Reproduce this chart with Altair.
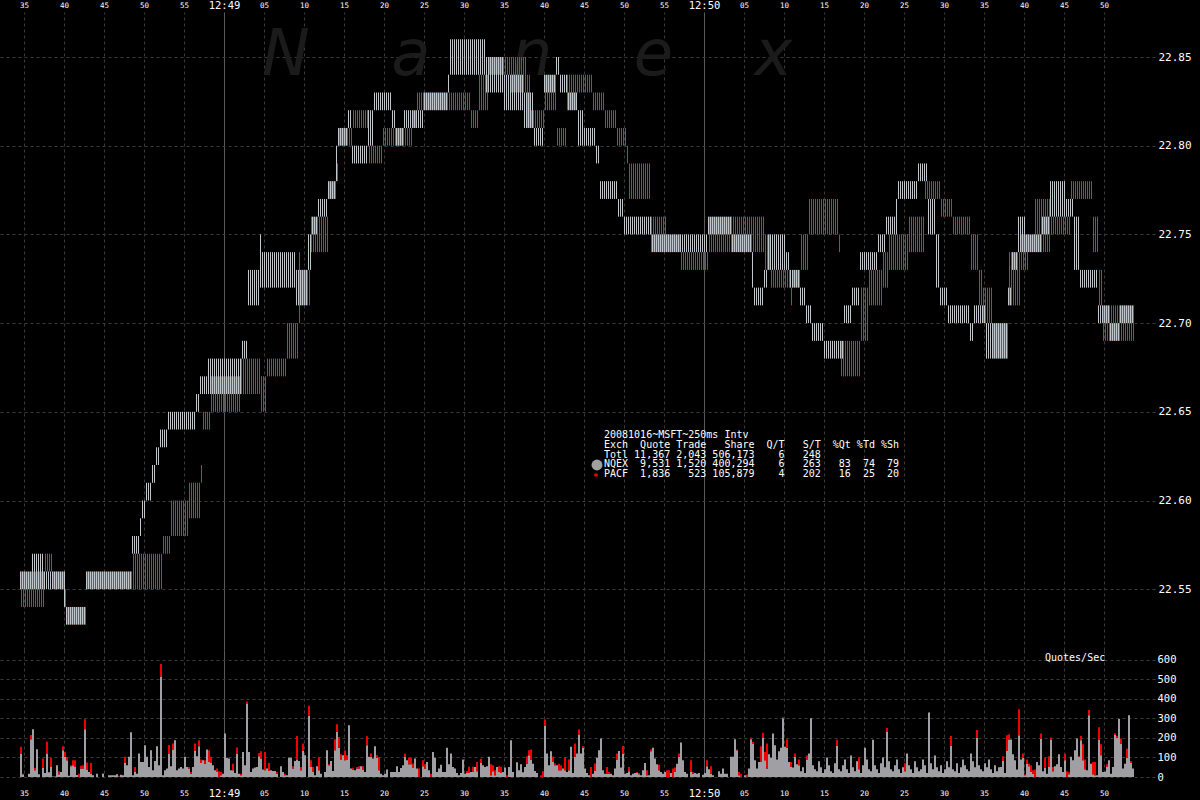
import math
import altair as alt
import pandas as pd

# ---------------- data ----------------
# time = seconds after 12:48:00 ; prices as cents above 22.00
# (start, end, bid, ask) quote segments
NQEX_SEGMENTS = [
    (34.5, 36.0, 55, 56), (36.0, 37.5, 55, 57), (37.5, 39.9, 55, 56), (39.9, 40.1, 54, 56),
    (40.1, 42.6, 53, 54), (42.6, 48.3, 55, 56), (48.3, 49.3, 57, 58), (49.3, 49.7, 58, 59),
    (49.7, 50.2, 59, 60), (50.2, 50.8, 60, 61), (50.8, 51.5, 61, 62), (51.5, 52.0, 62, 63),
    (52.0, 53.0, 63, 64), (53.0, 56.5, 64, 65), (56.5, 56.8, 65, 66), (56.8, 57.8, 66, 67),
    (57.8, 62.2, 66, 68), (62.2, 62.8, 68, 69), (62.8, 63.0, 69, 71), (63.0, 64.4, 71, 73),
    (64.4, 64.6, 72, 75), (64.6, 68.9, 72, 74), (68.9, 70.5, 71, 73), (70.5, 70.9, 73, 75),
    (70.9, 71.7, 75, 76), (71.7, 72.8, 76, 77), (72.8, 73.8, 77, 78), (73.8, 74.2, 78, 80),
    (74.2, 75.3, 80, 81), (75.3, 75.8, 81, 82), (75.8, 77.8, 79, 80), (77.8, 78.7, 80, 82),
    (78.7, 81.0, 82, 83), (81.0, 81.4, 81, 82), (81.4, 82.4, 80, 81), (82.4, 85.0, 81, 82),
    (85.0, 87.8, 82, 83), (87.8, 88.2, 83, 84), (88.2, 92.6, 84, 86), (92.6, 95.0, 83, 85),
    (95.0, 97.5, 82, 84), (97.5, 98.7, 81, 83), (98.7, 100.0, 80, 81), (100.0, 101.5, 83, 84),
    (101.5, 101.9, 84, 85), (101.9, 102.8, 83, 84), (102.8, 104.2, 82, 83), (104.2, 105.0, 80, 82),
    (105.0, 106.5, 80, 81), (106.5, 106.9, 79, 80), (106.9, 109.2, 77, 78), (109.2, 110.0, 76, 77),
    (110.0, 113.4, 75, 76), (113.4, 120.3, 74, 75), (120.3, 123.5, 75, 76), (123.5, 126.0, 74, 75),
    (126.0, 126.1, 72, 74), (126.1, 127.3, 71, 72), (127.3, 128.0, 72, 73), (128.0, 130.1, 73, 75),
    (130.1, 130.6, 73, 74), (130.6, 132.0, 72, 73), (132.0, 132.7, 71, 72), (132.7, 133.4, 70, 71),
    (133.4, 135.0, 69, 70), (135.0, 137.4, 68, 69), (137.4, 138.3, 70, 71), (138.3, 139.4, 71, 72),
    (139.4, 141.6, 73, 74), (141.6, 142.6, 74, 75), (142.6, 143.8, 75, 76), (143.8, 144.2, 75, 77),
    (144.2, 146.6, 77, 78), (146.6, 148.0, 78, 79), (148.0, 148.9, 75, 77), (148.9, 149.4, 72, 75),
    (149.4, 150.4, 71, 72), (150.4, 153.2, 70, 71), (153.2, 153.6, 69, 70), (153.6, 155.1, 70, 71),
    (155.1, 157.9, 68, 70), (157.9, 158.3, 71, 72), (158.3, 159.1, 73, 74), (159.1, 160.2, 74, 76),
    (160.2, 162.2, 74, 75), (162.2, 163.1, 75, 76), (163.1, 165.1, 76, 78), (165.1, 166.1, 76, 77),
    (166.1, 167.0, 73, 76), (167.0, 169.2, 72, 73), (169.2, 170.6, 70, 71), (170.6, 172.0, 69, 70),
    (172.0, 173.6, 70, 71),
]
PACF_SEGMENTS = [
    (34.5, 37.5, 54, 56), (37.5, 38.5, 56, 57), (38.5, 39.9, 55, 56), (39.9, 40.1, 54, 55),
    (40.1, 42.6, 53, 54), (42.6, 48.4, 55, 56), (48.4, 52.2, 55, 57), (52.2, 53.1, 57, 58),
    (53.1, 55.3, 58, 60), (55.3, 56.9, 59, 61), (56.9, 57.1, 61, 62), (57.1, 58.2, 64, 65),
    (58.2, 61.8, 65, 67), (61.8, 64.5, 66, 68), (64.5, 65.1, 65, 67), (65.1, 67.6, 67, 68),
    (67.6, 69.1, 68, 70), (69.1, 69.3, 70, 74), (69.3, 70.6, 71, 73), (70.6, 72.9, 74, 76),
    (72.9, 73.8, 77, 78), (73.8, 74.2, 78, 79), (74.2, 75.8, 80, 81), (75.8, 77.9, 81, 82),
    (77.9, 79.6, 79, 80), (79.6, 83.4, 80, 81), (83.4, 83.9, 81, 82), (83.9, 90.6, 82, 83),
    (90.6, 91.7, 81, 82), (91.7, 93.0, 82, 84), (93.0, 95.7, 84, 85), (95.7, 97.7, 83, 85),
    (97.7, 98.2, 81, 84), (98.2, 100.0, 81, 82), (100.0, 101.3, 82, 84), (101.3, 102.6, 80, 81),
    (102.6, 104.0, 82, 84), (104.0, 105.9, 83, 84), (105.9, 107.5, 82, 83), (107.5, 109.0, 81, 82),
    (109.0, 110.1, 80, 81), (110.1, 110.5, 79, 80), (110.5, 113.2, 77, 79), (113.2, 115.2, 74, 76),
    (115.2, 117.0, 74, 75), (117.0, 120.3, 73, 74), (120.3, 123.5, 74, 76), (123.5, 127.3, 74, 76),
    (127.3, 128.2, 73, 75), (128.2, 130.6, 72, 73), (130.6, 131.0, 71, 72), (131.0, 132.0, 72, 73),
    (132.0, 133.0, 73, 75), (133.0, 136.7, 75, 77), (136.7, 136.9, 74, 75), (136.9, 139.5, 67, 69),
    (139.5, 140.5, 69, 72), (140.5, 142.1, 71, 73), (142.1, 143.0, 72, 74), (143.0, 145.4, 73, 75),
    (145.4, 147.3, 74, 76), (147.3, 149.4, 77, 78), (149.4, 150.8, 76, 77), (150.8, 153.2, 75, 76),
    (153.2, 154.1, 73, 75), (154.1, 154.6, 71, 73), (154.6, 156.0, 70, 72), (156.0, 157.9, 68, 70),
    (157.9, 159.3, 71, 74), (159.3, 160.5, 73, 75), (160.5, 161.2, 74, 75), (161.2, 163.1, 74, 77),
    (163.1, 165.6, 75, 76), (165.6, 168.5, 77, 78), (168.5, 169.2, 74, 76), (169.2, 169.6, 71, 73),
    (169.6, 173.6, 69, 71),
]

# quotes/sec per 250 ms interval, first interval starts at 12:48:34.5
VOL_START = 34.5
NQEX_QPS = [
    120, 14, 0, 0, 17, 193, 244, 34, 142, 14, 0, 46, 21, 120, 24, 51, 3, 3, 60, 14,
    26, 137, 103, 85, 7, 55, 60, 51, 10, 0, 43, 43, 244, 38, 26, 17, 9, 0, 17, 0,
    0, 17, 0, 0, 9, 9, 9, 9, 14, 3, 12, 9, 72, 60, 103, 229, 9, 26, 17, 120,
    77, 77, 162, 103, 51, 137, 34, 82, 157, 60, 513, 9, 34, 43, 120, 55, 140, 188, 34, 43,
    51, 43, 103, 51, 43, 17, 51, 133, 106, 157, 72, 85, 68, 140, 77, 72, 60, 34, 26, 0,
    9, 17, 222, 99, 94, 34, 34, 21, 120, 17, 9, 128, 60, 376, 128, 26, 43, 48, 51, 106,
    94, 38, 34, 43, 31, 34, 31, 31, 17, 0, 55, 26, 9, 9, 99, 99, 43, 82, 89, 82,
    34, 133, 111, 0, 313, 51, 26, 9, 55, 34, 17, 0, 26, 137, 60, 82, 31, 137, 231, 150,
    89, 111, 85, 89, 265, 43, 38, 34, 43, 43, 55, 38, 26, 162, 103, 103, 94, 157, 99, 34,
    17, 9, 17, 38, 0, 26, 26, 26, 55, 26,
    46, 60, 103, 85, 65, 65, 48, 94, 43, 0, 0, 55, 43, 77, 34, 0, 128, 99, 26, 43,
    63, 26, 26, 149, 65, 120, 51, 43, 21, 9, 21, 89, 17, 21, 21, 26, 26, 51, 29, 0,
    72, 60, 51, 55, 103, 9, 29, 9, 51, 26, 21, 26, 48, 0, 51, 188, 26, 0, 75, 34,
    65, 24, 51, 68, 111, 89, 68, 31, 21, 0, 0, 0, 260, 120, 60, 132, 77, 60, 60, 34,
    34, 43, 34, 26, 34, 154, 21, 103, 120, 217, 120, 149, 43, 21, 9, 0, 17, 31, 99, 137,
    197, 34, 17, 17, 17, 17, 9, 43, 89, 133, 48, 120, 17, 21, 29, 9, 17, 21, 21, 14,
    9, 34, 72, 9, 9, 132, 150, 94, 65, 34, 26, 17, 26, 0, 0, 21, 0, 26, 68, 103,
    176, 85, 26, 17, 0, 26, 17, 21, 17, 21, 0, 12, 21, 55, 39, 17, 9, 0, 0, 29,
    17, 43, 17, 17, 0, 103, 103, 193, 137, 9, 3, 0, 9, 3, 43, 193, 171, 85, 43, 77,
    77, 202, 85, 43, 116, 99, 222, 162, 89, 132, 150, 300, 154, 150, 77, 51, 48, 103, 65, 60,
    30, 50, 20, 90, 120, 300, 60, 40, 30, 80, 50, 20, 40, 100, 60, 30, 20, 70, 160, 40,
    30, 60, 90, 40, 20, 110, 50, 30, 80, 40, 20, 60, 150, 90, 40, 30, 190, 60, 40, 20,
    70, 100, 50, 230, 80, 40, 30, 60, 90, 40, 20, 50, 30, 120, 60, 40, 20, 80, 50, 30,
    40, 90, 60, 20, 330, 70, 40, 110, 50, 30, 60, 20, 40, 80, 50, 160, 40, 30, 70, 20,
    50, 90, 60, 40, 30, 120, 80, 50, 200, 60, 40, 30, 70, 50, 90, 40, 20, 60, 30, 50,
    51, 82, 21, 133, 192, 192, 116, 85, 38, 213, 89, 99, 9, 68, 55, 26, 17, 0, 77, 60,
    195, 29, 46, 17, 51, 192, 29, 55, 65, 116, 51, 26, 85, 0, 14, 103, 85, 137, 197, 103,
    188, 85, 39, 34, 316, 68, 14, 9, 9, 192, 111, 26, 26, 51, 85, 17, 51, 214, 200, 296,
    171, 43, 68, 99, 316, 72, 43,
]
PACF_QPS = [
    34, 3, 0, 0, 0, 21, 0, 12, 0, 0, 0, 49, 0, 60, 0, 48, 0, 0, 0, 15,
    0, 20, 26, 17, 0, 5, 25, 34, 0, 17, 15, 17, 51, 36, 0, 55, 0, 0, 0, 0,
    0, 3, 0, 0, 0, 0, 0, 0, 0, 3, 0, 0, 31, 0, 0, 0, 0, 25, 0, 0,
    0, 0, 0, 0, 0, 0, 0, 0, 0, 0, 65, 0, 0, 0, 43, 0, 31, 0, 0, 0,
    0, 0, 0, 0, 8, 9, 0, 38, 0, 31, 17, 0, 17, 0, 60, 31, 0, 0, 17, 29,
    17, 0, 0, 0, 0, 0, 34, 0, 31, 0, 8, 0, 0, 9, 0, 0, 0, 0, 0, 17,
    38, 0, 94, 0, 41, 0, 0, 0, 9, 0, 0, 0, 8, 0, 0, 0, 12, 0, 120, 0,
    17, 38, 0, 0, 51, 34, 25, 0, 0, 68, 0, 0, 0, 0, 5, 0, 0, 56, 39, 55,
    27, 0, 51, 22, 0, 0, 9, 0, 8, 12, 0, 17, 0, 46, 0, 17, 0, 0, 12, 68,
    0, 0, 0, 0, 0, 0, 0, 0, 0, 0,
    0, 0, 17, 0, 34, 34, 21, 0, 0, 43, 0, 31, 22, 0, 0, 17, 0, 0, 0, 0,
    0, 0, 0, 0, 0, 0, 0, 0, 0, 0, 0, 3, 0, 10, 31, 0, 26, 0, 48, 0,
    21, 0, 0, 0, 0, 56, 31, 26, 0, 29, 31, 0, 0, 9, 0, 0, 0, 0, 0, 0,
    0, 0, 0, 38, 26, 51, 0, 0, 0, 0, 9, 29, 34, 0, 0, 0, 26, 9, 0, 34,
    26, 0, 68, 0, 55, 0, 0, 68, 0, 26, 0, 9, 0, 0, 0, 51, 0, 38, 0, 0,
    0, 0, 0, 34, 9, 0, 0, 0, 31, 0, 0, 38, 0, 0, 22, 0, 0, 0, 5, 7,
    0, 0, 0, 26, 0, 9, 0, 0, 0, 29, 0, 0, 0, 34, 34, 0, 43, 22, 0, 17,
    0, 0, 0, 0, 0, 60, 9, 0, 0, 0, 0, 0, 0, 31, 0, 38, 0, 0, 0, 0,
    0, 0, 0, 0, 0, 0, 0, 0, 3, 17, 14, 0, 0, 10, 0, 9, 9, 0, 0, 0,
    80, 24, 43, 128, 0, 0, 0, 0, 0, 0, 0, 5, 0, 43, 0, 26, 0, 17, 0, 30,
    0, 0, 0, 20, 0, 0, 0, 0, 0, 0, 0, 0, 0, 0, 0, 0, 0, 0, 30, 0,
    0, 0, 0, 0, 0, 0, 0, 0, 0, 60, 0, 0, 0, 0, 0, 0, 0, 0, 0, 0,
    0, 0, 0, 20, 0, 0, 0, 0, 0, 0, 0, 0, 40, 0, 0, 0, 0, 0, 0, 0,
    0, 0, 0, 0, 0, 0, 0, 0, 0, 0, 0, 0, 0, 0, 0, 50, 0, 0, 0, 0,
    0, 0, 0, 0, 0, 0, 0, 0, 40, 0, 0, 0, 0, 0, 0, 0, 0, 0, 0, 0,
    0, 24, 0, 80, 27, 0, 0, 0, 0, 133, 0, 21, 5, 22, 14, 34, 17, 38, 0, 0,
    27, 0, 53, 0, 55, 10, 22, 0, 0, 0, 0, 0, 34, 29, 10, 0, 0, 0, 0, 5,
    21, 82, 51, 0, 26, 0, 63, 68, 0, 62, 56, 0, 5, 14, 0, 0, 0, 9, 9, 0,
    26, 0, 0, 46, 0, 10, 0,
]

PRICE_TICKS = [22.55, 22.60, 22.65, 22.70, 22.75, 22.80, 22.85]
VOL_TICKS = [0, 100, 200, 300, 400, 500, 600]
TIME_TICKS = list(range(35, 171, 5))

LEGEND_LINES = [
    "20081016~MSFT~250ms Intv",
    "Exch  Quote Trade   Share  Q/T   S/T  %Qt %Td %Sh",
    "Totl 11,367 2,043 506,173    6   248",
    "NQEX  9,531 1,520 400,294    6   263   83  74  79",
    "PACF  1,836   523 105,879    4   202   16  25  20",
]
WATERMARK = ["N", "a", "n", "e", "x"]

# ---------------- tables ----------------
rows = []
for name, segs, off in (("NQEX", NQEX_SEGMENTS, 0.0625), ("PACF", PACF_SEGMENTS, 0.1875)):
    for a, b, lo, hi in segs:
        for k in range(math.ceil(a * 4 - 1e-9), math.ceil(b * 4 - 1e-9)):
            rows.append({"t": k / 4 + off, "lo": 22 + lo / 100, "hi": 22 + hi / 100, "exch": name})
quotes = pd.DataFrame(rows)

vrows = []
for i, (g, r) in enumerate(zip(NQEX_QPS, PACF_QPS)):
    t = VOL_START + i * 0.25
    vrows.append({"t": t, "t2": t + 0.25, "v0": 0, "v1": g, "exch": "NQEX"})
    if r > 0:
        vrows.append({"t": t, "t2": t + 0.25, "v0": g, "v1": g + r, "exch": "PACF"})
vol = pd.DataFrame(vrows)

# ---------------- styling ----------------
W = 1155
X_DOMAIN = [32, 32 + W / 8]
MONO = "DejaVu Sans Mono"
GRID = "#3a3a3a"
MINUTE = "#5a5a5a"
is_min = "datum.value % 60 === 0"
label_expr = ("datum.value % 60 === 0 ? '12:' + (48 + datum.value / 60) : "
              "(datum.value % 60 < 10 ? '0' : '') + (datum.value % 60)")


def time_axis(orient, pad, extent):
    return alt.Axis(
        orient=orient, values=TIME_TICKS, labelExpr=label_expr, title=None,
        ticks=False, tickSize=0, domain=False, grid=True,
        gridColor={"condition": {"test": is_min, "value": MINUTE}, "value": GRID},
        gridDash={"condition": {"test": is_min, "value": []}, "value": [3, 3]},
        labelColor="#ffffff", labelFont=MONO,
        labelFontSize={"condition": {"test": is_min, "value": 10.5}, "value": 7.5},
        labelBaseline="middle", labelPadding=pad, labelFlush=False, labelOverlap=False,
        minExtent=extent, maxExtent=extent,
    )


xs = alt.Scale(domain=X_DOMAIN, nice=False, zero=False)
ys = alt.Scale(domain=[22.51573, 22.87537], nice=False, zero=False)
color = alt.Scale(domain=["NQEX", "PACF"], range=["#c0c6c9", "#e8262a"])
vcolor = alt.Scale(domain=["NQEX", "PACF"], range=["#a09fa3", "#f00000"])

price_axis = alt.Axis(
    orient="right", values=PRICE_TICKS, format=".2f", title=None, ticks=False, domain=False,
    grid=True, gridColor=GRID, gridDash=[3, 3], labelColor="#ffffff", labelFont=MONO,
    labelFontSize=11, labelPadding=3, labelBaseline="middle", minExtent=45, maxExtent=45,
)
vol_axis = alt.Axis(
    orient="right", values=VOL_TICKS, title=None, ticks=False, domain=False,
    grid=True, gridColor=GRID, gridDash=[3, 3], labelColor="#ffffff", labelFont=MONO,
    labelFontSize=10.5, labelPadding=2, labelBaseline="middle", minExtent=45, maxExtent=45,
)

base_q = alt.Chart(quotes)
rules = base_q.mark_rule(strokeWidth=1).encode(
    x=alt.X("t:Q", scale=xs, axis=time_axis("top", 7, 12)),
    y=alt.Y("lo:Q", scale=ys, axis=price_axis),
    y2="hi:Q",
    color=alt.Color("exch:N", scale=color, legend=None),
)

wm = alt.Chart(pd.DataFrame({"w": ["\u00a0\u00a0\u00a0\u00a0".join(WATERMARK)]})).mark_text(
    font="DejaVu Sans", fontStyle="italic", fontSize=64, color="#1b1b1b",
    align="left", baseline="alphabetic",
).encode(text="w:N", x=alt.value(262), y=alt.value(63))

legend_text = alt.Chart(pd.DataFrame({"s": ["\n".join(LEGEND_LINES).replace(" ", "\u00a0")]})).mark_text(
    font=MONO, fontSize=10, color="#ffffff", align="left", baseline="top",
    lineBreak="\n", lineHeight=9.75,
).encode(text="s:N", x=alt.value(604), y=alt.value(418))

dot_src = pd.DataFrame({"k": [1]})
dot_nq = alt.Chart(dot_src).mark_point(filled=True, opacity=1, strokeWidth=0, size=120, color="#a0a0a0").encode(
    x=alt.value(597), y=alt.value(453))
dot_pa = alt.Chart(dot_src).mark_point(filled=True, opacity=1, strokeWidth=0, size=14, color="#f00000").encode(
    x=alt.value(596), y=alt.value(463))

price = alt.layer(wm, rules, legend_text, dot_nq, dot_pa).properties(width=W, height=638)

bars = alt.Chart(vol).mark_rect().encode(
    x=alt.X("t:Q", scale=xs, axis=time_axis("bottom", 16, 23)),
    x2="t2:Q",
    y=alt.Y("v0:Q", scale=alt.Scale(domain=[0, 649], nice=False), axis=vol_axis),
    y2="v1:Q",
    color=alt.Color("exch:N", scale=vcolor, legend=None),
)
qlabel = alt.Chart(pd.DataFrame({"s": ["Quotes/Sec"]})).mark_text(
    font=MONO, fontSize=10, color="#ffffff", align="left", baseline="middle"
).encode(text="s:N", x=alt.value(1045), y=alt.value(8))

volume = alt.layer(bars, qlabel).properties(width=W, height=127)

chart = alt.vconcat(price, volume, spacing=0).resolve_scale(color="independent").properties(
    padding=0, background="#000000"
).configure_view(strokeWidth=0)

TEMPLATE_SRC = """<!DOCTYPE html>
<html>
<head>
  <style>
    html, body { margin: 0; padding: 0; background: #000000; overflow: hidden; }
    #{{ output_div }}.vega-embed { width: 100%; display: flex; }
  </style>
  <script type="text/javascript" src="{{ base_url }}/vega@{{ vega_version }}"></script>
  <script type="text/javascript" src="{{ base_url }}/vega-lite@{{ vegalite_version }}"></script>
  <script type="text/javascript" src="{{ base_url }}/vega-embed@{{ vegaembed_version }}"></script>
</head>
<body>
  <div id="{{ output_div }}"></div>
  <script>
    (function(vegaEmbed) {
      var spec = {{ spec }};
      var embedOpt = {{ embed_options }};
      function showError(el, error){
          el.innerHTML = ('<div style="color:red;"><p>JavaScript Error: ' + error.message + '</p></div>');
          throw error;
      }
      const el = document.getElementById('{{ output_div }}');
      vegaEmbed("#{{ output_div }}", spec, embedOpt)
        .catch(error => showError(el, error));
    })(vegaEmbed);
  </script>
</body>
</html>
"""

try:
    import jinja2
    chart.save("out.html", embed_options={"renderer": "svg", "actions": False},
               template=jinja2.Template(TEMPLATE_SRC))
except Exception:
    chart.save("out.html", embed_options={"renderer": "svg", "actions": False})
